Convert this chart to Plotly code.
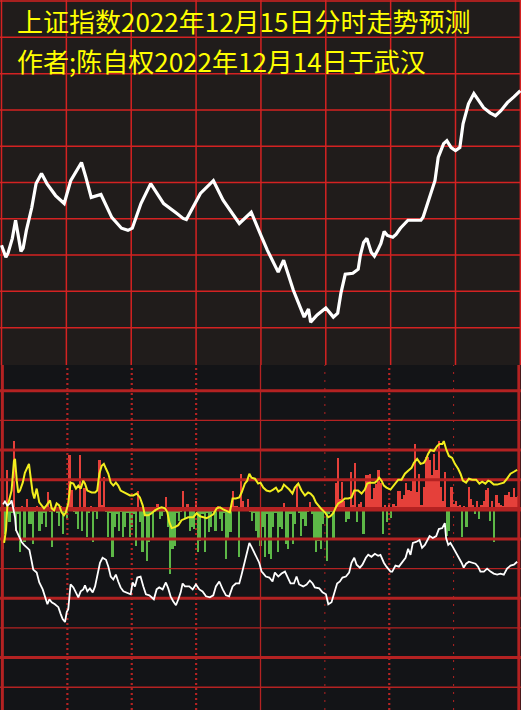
import plotly.graph_objects as go

# ---------------- data ----------------
TITLE_1 = "上证指数2022年12月15日分时走势预测"
TITLE_2 = "作者;陈自权2022年12月14日于武汉"

# forecast index path: minute after open -> index level
price_minutes = [0, 1, 2, 3, 5, 6.5, 8, 9, 10, 11.5, 14, 16, 18.5, 21, 25, 29, 32, 37, 39,
                 41.5, 46, 51, 55.5, 58.5, 60.5, 64.5, 69, 75, 81, 84, 85.5, 92, 98, 102.5,
                 110, 115.5, 120, 123, 128, 130.5, 135, 140, 142, 143, 146, 150, 152, 153.5,
                 155.5, 157, 159, 162.5, 165, 166, 167.5, 169, 171, 172.5, 174, 175.5, 177,
                 178.5, 181, 182.5, 184.5, 188, 190.5, 194, 195, 197, 199, 200.5, 202, 204.5,
                 206, 208, 210, 212, 213.5, 216, 218.5, 220, 223, 226, 228.5, 231, 234, 237, 240]
price_values = [3132.7, 3130.8, 3129.4, 3130.5, 3134.6, 3139.6, 3134.1, 3131.0, 3131.9, 3136.8,
                3143.1, 3149.7, 3152.5, 3149.7, 3146.4, 3144.2, 3150.5, 3155.5, 3151.5, 3145.9,
                3146.7, 3140.4, 3137.4, 3136.8, 3137.4, 3144.2, 3149.7, 3144.2, 3141.5, 3140.1,
                3139.8, 3147.0, 3150.5, 3145.1, 3138.7, 3141.8, 3135.4, 3131.3, 3125.3, 3128.6,
                3120.3, 3112.9, 3115.1, 3111.5, 3113.5, 3115.4, 3114.0, 3112.9, 3114.0, 3119.5,
                3124.7, 3125.0, 3126.1, 3130.0, 3133.5, 3134.6, 3130.8, 3129.7, 3131.3, 3133.2,
                3136.5, 3135.4, 3134.9, 3135.7, 3137.4, 3139.6, 3139.6, 3139.6, 3140.4, 3144.2,
                3147.8, 3150.5, 3156.9, 3160.7, 3161.5, 3159.6, 3158.8, 3159.6, 3166.2, 3171.7,
                3174.5, 3173.1, 3170.6, 3169.2, 3168.4, 3169.8, 3172.0, 3173.6, 3175.3]

# per-minute bars (0..240), positive red, negative green
bar_values = [
    -40, -25, 40, -13, -4, 69, -22, -5, -43, 3, -33, 10, -15, -15, -35, -3, 3, -22, -15, -4,
    -18, 18, -3, -38, 2, -4, -17, 3, -25, -3, -10, 55, 20, -3, -5, -20, 55, -22, 22, -28,
    -4, 3, -33, -3, -10, 50, 4, 33, -3, -28, -4, -48, -18, -5, -22, -3, -28, -18, -4, -28,
    -18, -5, -37, 19, -13, -43, -6, -52, -33, -4, -30, -3, 5, -10, -7, -3, 12, -18, -65, -40,
    -37, -4, -12, -3, 19, -10, 5, -22, -18, -20, 8, -43, -32, -5, -43, -4, -23, -18, -3, -22,
    3, -10, -22, -4, -50, -30, -23, 19, 3, 3, -48, 36, 8, 2, 10, -3, -12, -4, -22, -30,
    -37, -18, -48, -5, -45, -50, -18, -4, -43, -18, -20, 6, -35, -40, -5, -35, -15, 26, -4, -27,
    -10, -17, -3, 7, -5, -30, -43, -32, -40, -15, -4, -52, -5, -3, -30, 27, 52, 10, 28, 8,
    -13, -10, 38, 4, 47, -13, 5, 7, -25, 35, 35, 36, 10, 22, 26, 40, 27, -25, 4, -13,
    4, -9, 5, 3, 19, 19, 10, 15, 27, 20, 19, 31, 66, 18, 36, 4, 23, 53, 53, 50,
    35, 56, 40, 69, 23, 8, 38, -27, -22, 23, 5, 8, 3, 4, -28, 3, -18, 23, 10, 4,
    -5, 8, -10, 4, 8, 20, 22, -12, 8, -33, 15, 6, 4, 3, 14, 15, 18, 12, 22, 12, 13]
bar_minutes = list(range(len(bar_values)))

yellow_minutes = [0.5, 1.4, 2, 4, 5.1, 5.6, 6.4, 7.1, 7.9, 9.2, 10.2, 11, 12.1, 12.9, 13.8, 14.6,
                  15.7, 16.9, 18, 19.1, 20.3, 21.9, 22.7, 23.8, 25, 26.2, 27.3, 28.4, 29.3, 30.4,
                  31.5, 32.8, 34, 35.1, 36.2, 37.4, 38.2, 39.3, 41.3, 42.9, 43.9, 44.9, 46, 47,
                  48, 49.1, 50.2, 51.4, 52.6, 53.7, 54.8, 56.4, 57.6, 59.2, 60.7, 62.3, 63.8,
                  65.1, 66.1, 67.7, 69.3, 70.8, 72.4, 73.9, 75.5, 76.6, 77.5, 78.6, 80.1, 81.7,
                  83.2, 84.8, 86.3, 88.7, 90.2, 91.8, 93.3, 94.9, 96.5, 98, 99.6, 101.1, 102.6,
                  104.2, 105.7, 107, 108.5, 110.1, 111.2, 112.7, 113.8, 114.8, 115.8, 117.4,
                  118.9, 120, 121.3, 122.8, 124.4, 125.9, 127.2, 128.3, 129.8, 130.9, 132.1,
                  133.4, 134.9, 136, 137.6, 139.1, 140.7, 142.2, 143.3, 144.6, 145.8, 146.9,
                  148.5, 150, 151.6, 152.6, 153.9, 155.1, 156.2, 157.8, 159.3, 160.9, 162.4,
                  163.7, 165.5, 167.1, 168.6, 169.7, 171, 173.3, 174.4, 175.3, 176.4, 177.5,
                  178.7, 180.6, 182.6, 184.2, 185.7, 187.3, 188.8, 190.4, 191.5, 193, 194.6,
                  196.1, 197.2, 198.1, 199.2, 200.8, 202.3, 203.4, 204.7, 205.4, 206.5, 207.8,
                  209.3, 210.6, 212.1, 213.2, 214.3, 215.8, 217.1, 218.6, 220.5, 222, 223.3,
                  224.8, 226.1, 227.2, 228.7, 230.3, 231.8, 233.4, 234.9, 236.5, 238.1, 239.6]
yellow_values = [-34, -21, 2, 19, 49, 51, 29, 17, 19, 27, 37, 41, 46, 32, 17, 11, 21, 7, 4, 1,
                 4, 9, 1, -1, 6, 4, -3, -6, -3, 6, 27, 26, 21, 24, 21, 29, 26, 19, 17, 17, 19,
                 36, 44, 46, 41, 36, 27, 24, 27, 24, 19, 17, 16, 14, 14, 16, 12, 4, -6, -6, -4,
                 -1, 1, 2, 1, -3, -13, -19, -18, -16, -11, -9, -8, -8, -4, -7, -8, -9, -7, -5,
                 1, 2, 0, -2, -3, 11, 11, 12, 17, 26, 29, 36, 32, 31, 26, 27, 22, 19, 18, 20,
                 22, 18, 20, 25, 23, 20, 16, 22, 26, 19, 14, 17, 16, 13, 7, 4, 0, -3, -8, -7,
                 -4, 2, 6, 8, 11, 11, 12, 19, 19, 16, 20, 26, 27, 27, 29, 32, 29, 24, 22, 20,
                 26, 30, 30, 36, 39, 42, 47, 51, 46, 47, 51, 56, 60, 59, 64, 66, 66, 69, 61,
                 54, 52, 46, 41, 36, 29, 27, 31, 30, 30, 26, 28, 26, 29, 28, 25, 25, 26, 27,
                 31, 36, 38, 40]

white_minutes = [0, 0.9, 2, 3.3, 4, 4.8, 5.6, 6.1, 6.7, 7.6, 8.7, 9.8, 11, 12.3, 13.4, 14.1, 15.7,
                 16.9, 18.5, 19.6, 20.7, 21.6, 22.7, 24.2, 25.8, 26.9, 27.8, 28.9, 29.7, 30.4,
                 31.5, 32.8, 34, 35.1, 36.2, 37.4, 38.2, 39.3, 40.5, 41.8, 42.9, 43.9, 45.2,
                 46.4, 48, 49.1, 50.2, 51.4, 52.6, 53.7, 54.8, 56.1, 57.3, 58.4, 59.5, 60.4,
                 61.5, 62.6, 64.1, 65.4, 66.6, 68.2, 69.3, 70.3, 71.6, 72.8, 74.4, 75.9, 77,
                 78.1, 79.3, 80.6, 81.7, 82.8, 83.7, 84.8, 86.8, 88.4, 89.9, 91.5, 93, 94.6,
                 96.4, 98, 99.2, 100.8, 102.4, 103.9, 105.4, 107, 108.5, 110.1, 111.2, 112.3,
                 113.5, 114.8, 115.8, 116.9, 118.2, 119.4, 120.5, 121, 122.5, 124.1, 125.6,
                 126.7, 128.3, 129.8, 131.4, 132.5, 134, 135.6, 136.8, 138, 139.9, 141.5, 143,
                 144.3, 145.3, 147.4, 148.9, 150.5, 151.6, 153.1, 154.7, 155.7, 157, 158.2,
                 159.8, 161.3, 162.4, 163.7, 164.8, 166.3, 167.5, 169.1, 170.2, 171.7, 173.3,
                 174.8, 175.9, 177.5, 178.7, 180.6, 181.4, 182.9, 184.5, 186, 187.6, 188.8,
                 189.9, 191, 192.5, 194.1, 195.3, 196.6, 197.7, 198.8, 200.3, 201.9, 203.1,
                 204.7, 205.9, 206.5, 207.5, 208.5, 209.6, 210.9, 212.4, 213.7, 214.7, 215.8,
                 217.1, 218.6, 220.2, 221.4, 222.5, 224.1, 225.6, 227.2, 228.7, 230.3, 231.8,
                 233.4, 234.9, 236.5, 238.1, 239.6]
white_values = [5, 8, 4, 6, 9, 2, -8, -21, -24, -29, -33, -36, -38, -41, -53, -61, -64, -74, -81,
                -89, -96, -91, -94, -96, -99, -106, -111, -114, -104, -101, -76, -79, -84, -89,
                -83, -81, -77, -83, -80, -84, -78, -68, -54, -49, -51, -58, -68, -71, -66, -73,
                -79, -83, -84, -85, -86, -74, -78, -69, -68, -78, -86, -87, -89, -91, -81, -79,
                -81, -74, -80, -88, -93, -97, -91, -84, -75, -78, -78, -81, -76, -81, -83, -88,
                -89, -87, -78, -73, -81, -87, -88, -78, -75, -75, -66, -56, -46, -34, -38, -43,
                -48, -54, -63, -64, -68, -69, -73, -64, -68, -65, -63, -68, -75, -75, -68, -76,
                -78, -76, -72, -75, -79, -80, -84, -86, -96, -94, -81, -75, -73, -69, -68, -64,
                -54, -49, -56, -59, -56, -49, -46, -48, -45, -47, -46, -54, -58, -63, -63, -57,
                -58, -54, -49, -40, -46, -34, -33, -31, -39, -36, -31, -27, -29, -27, -20, -19,
                -14, -29, -36, -34, -38, -43, -48, -54, -59, -55, -53, -54, -55, -58, -63, -63,
                -60, -63, -65, -66, -65, -66, -60, -57, -56, -53]

# ---------------- styling ----------------
TOP_BG = "#201c1b"
BOT_BG = "#131417"
TOP_GRID = "#d42222"
BOT_GRID = "#b42222"
RED = "#e5403a"
GREEN = "#5db847"
YELLOW = "#f2ee1e"
SPLIT = 1 - 365 / 710

fig = go.Figure()

# top panel price line
fig.add_trace(go.Scatter(x=price_minutes, y=price_values, mode="lines",
                         line=dict(color="white", width=3.2), xaxis="x", yaxis="y"))

# bottom panel bars
fig.add_trace(go.Bar(x=bar_minutes, y=bar_values, width=1.0,
                     marker=dict(color=[RED if v > 0 else GREEN for v in bar_values],
                                 line=dict(width=0)),
                     xaxis="x2", yaxis="y2"))

# bottom grid drawn above bars, below lines
xl = [-1.4, 241.4]
thick = [120, 60, 30, -30, -90, -150]
thin = [90, -60, -120, -180]
for lv in thick:
    fig.add_trace(go.Scatter(x=xl, y=[lv, lv], mode="lines", line=dict(color=BOT_GRID, width=3),
                             xaxis="x2", yaxis="y2"))
for lv in thin:
    fig.add_trace(go.Scatter(x=xl, y=[lv, lv], mode="lines", line=dict(color=BOT_GRID, width=1.3),
                             xaxis="x2", yaxis="y2"))
fig.add_trace(go.Scatter(x=xl, y=[0, 0], mode="lines", line=dict(color=BOT_GRID, width=4.5),
                         xaxis="x2", yaxis="y2"))

yl = [-203, 146]
for m in [30, 60, 90, 180]:
    fig.add_trace(go.Scatter(x=[m, m], y=yl, mode="lines",
                             line=dict(color=BOT_GRID, width=2.2, dash="2px,3px"),
                             xaxis="x2", yaxis="y2"))
for m in [150, 210]:
    fig.add_trace(go.Scatter(x=[m, m], y=yl, mode="lines",
                             line=dict(color=BOT_GRID, width=1, dash="2px,6px"),
                             xaxis="x2", yaxis="y2"))
fig.add_trace(go.Scatter(x=[120, 120], y=yl, mode="lines", line=dict(color=BOT_GRID, width=1.3),
                         xaxis="x2", yaxis="y2"))
for m in [-0.3, 240.4]:
    fig.add_trace(go.Scatter(x=[m, m], y=yl, mode="lines", line=dict(color=BOT_GRID, width=3),
                             xaxis="x2", yaxis="y2"))

fig.add_trace(go.Scatter(x=yellow_minutes, y=yellow_values, mode="lines",
                         line=dict(color=YELLOW, width=2), xaxis="x2", yaxis="y2"))
fig.add_trace(go.Scatter(x=white_minutes, y=white_values, mode="lines",
                         line=dict(color="white", width=1.8), xaxis="x2", yaxis="y2"))

shapes = [dict(type="rect", xref="paper", yref="paper", x0=0, x1=1, y0=SPLIT, y1=1,
               fillcolor=TOP_BG, line=dict(width=0), layer="below")]
for p in range(3110, 3201, 10):
    shapes.append(dict(type="line", xref="x", yref="y", x0=-1, x1=241, y0=p, y1=p,
                       line=dict(color=TOP_GRID, width=1.5), layer="below"))
for m in range(0, 241, 30):
    shapes.append(dict(type="line", xref="x", yref="y", x0=m, x1=m, y0=3099.7, y1=3200.3,
                       line=dict(color=TOP_GRID, width=1.5), layer="below"))

# two title lines, spaced so their text boxes do not collide
title_font = dict(family="Noto Sans CJK SC", size=26, color="#ffff00")
annotations = [
    dict(text=TITLE_1, xref="paper", yref="paper", x=15 / 521, y=1 - 21 / 710,
         xanchor="left", yanchor="middle", showarrow=False, font=title_font),
    dict(text=TITLE_2, xref="paper", yref="paper", x=15 / 521, y=1 - 60 / 710,
         xanchor="left", yanchor="middle", showarrow=False, font=title_font),
]

ax = dict(showgrid=False, zeroline=False, showticklabels=False, ticks="", showline=False)
fig.update_layout(
    width=521, height=710,
    margin=dict(l=0, r=0, t=0, b=0),
    paper_bgcolor=BOT_BG, plot_bgcolor="rgba(0,0,0,0)",
    showlegend=False, hovermode=False, bargap=0,
    xaxis=dict(ax, domain=[0, 1], range=[-0.7, 240.3], anchor="y"),
    yaxis=dict(ax, domain=[SPLIT, 1], range=[3099.7, 3200.3], anchor="x"),
    xaxis2=dict(ax, domain=[0, 1], range=[-1.4, 241.4], anchor="y2"),
    yaxis2=dict(ax, domain=[0, SPLIT], range=[-203, 146], anchor="x2"),
    shapes=shapes, annotations=annotations,
)

fig.write_html("out.html", config={"displayModeBar": False},
               post_script="document.body.style.margin='0px';")
